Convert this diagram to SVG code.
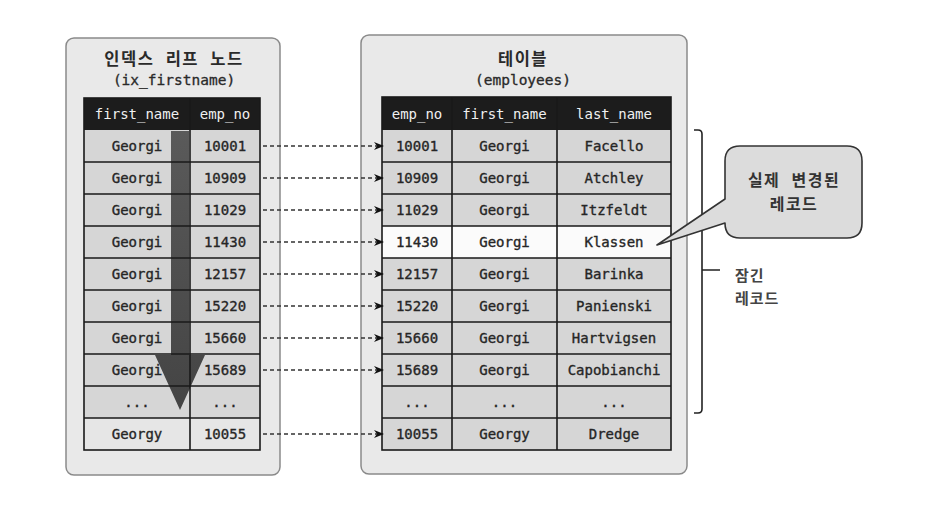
<svg xmlns="http://www.w3.org/2000/svg" width="948" height="506" viewBox="0 0 948 506">
<defs>
<style>
.panel{fill:#e9e9e9;stroke:#8a8a8a;stroke-width:1.5}
.title{font-family:"Noto Sans CJK KR","Noto Sans",sans-serif;font-weight:bold;font-size:16.5px;letter-spacing:1.5px;word-spacing:6px;fill:#2a2a2a;text-anchor:middle}
.sub{font-family:"DejaVu Sans Mono","Liberation Mono",monospace;font-size:14.5px;fill:#2a2a2a;stroke:#2a2a2a;stroke-width:0.3;text-anchor:middle}
.hdr{fill:#1c1c1c}
.htxt{font-family:"DejaVu Sans Mono","Liberation Mono",monospace;font-size:14px;fill:#f0f0f0;text-anchor:middle}
.cell{fill:#d6d6d6}
.lite{fill:#e6e6e6}
.white{fill:#fbfbfb}
.ctxt{font-family:"DejaVu Sans Mono","Liberation Mono",monospace;font-size:14px;fill:#262626;stroke:#262626;stroke-width:0.35;text-anchor:middle}
.grid{stroke:#1a1a1a;stroke-width:1.6;fill:none}
.conn{stroke:#333;stroke-width:1.3;stroke-dasharray:4 3;fill:none}
.kr{font-family:"Noto Sans CJK KR","Noto Sans",sans-serif;font-size:15px;font-weight:bold;letter-spacing:1px;fill:#444}
.krb{font-family:"Noto Sans CJK KR","Noto Sans",sans-serif;font-size:16px;font-weight:bold;letter-spacing:1.5px;word-spacing:6px;fill:#333;text-anchor:middle}
</style>
<marker id="ah" markerWidth="10" markerHeight="8" refX="9" refY="4" orient="auto" markerUnits="userSpaceOnUse">
<path d="M0,0 L10,4 L0,8 L3,4 Z" fill="#111"/>
</marker>
<linearGradient id="ag" x1="0" y1="0" x2="0" y2="1">
<stop offset="0" stop-color="#5a5a5a"/>
<stop offset="1" stop-color="#444"/>
</linearGradient>
</defs>
<rect width="948" height="506" fill="#fff"/>

<g id="index-leaf-node">
<rect class="panel" x="66" y="38" width="214" height="437" rx="8"/>
<text class="title" x="174" y="65">인덱스 리프 노드</text>
<text class="sub" x="174" y="85">(ix_firstname)</text>
<rect class="hdr" x="84" y="98" width="176" height="32"/>
<text class="htxt" x="137" y="119">first_name</text>
<text class="htxt" x="225" y="119">emp_no</text>
<rect class="cell" x="84" y="130" width="176" height="288"/>
<rect class="lite" x="84" y="418" width="176" height="32"/>
<g class="ctxt">
<text x="137" y="151">Georgi</text><text x="225" y="151">10001</text>
<text x="137" y="183">Georgi</text><text x="225" y="183">10909</text>
<text x="137" y="215">Georgi</text><text x="225" y="215">11029</text>
<text x="137" y="247">Georgi</text><text x="225" y="247">11430</text>
<text x="137" y="279">Georgi</text><text x="225" y="279">12157</text>
<text x="137" y="311">Georgi</text><text x="225" y="311">15220</text>
<text x="137" y="343">Georgi</text><text x="225" y="343">15660</text>
<text x="137" y="375">Georgi</text><text x="225" y="375">15689</text>
<text x="137" y="407">...</text><text x="225" y="407">...</text>
<text x="137" y="439">Georgy</text><text x="225" y="439">10055</text>
</g>
<polygon points="171,131 189,131 189,355 205,355 180,410 155,355 171,355" fill="url(#ag)"/>
<rect class="grid" x="84" y="98" width="176" height="352"/>
<path class="grid" d="M190,98V450 M84,162H260 M84,194H260 M84,226H260 M84,258H260 M84,290H260 M84,322H260 M84,354H260 M84,386H260 M84,418H260"/>
</g>

<g id="table-employees">
<rect class="panel" x="361" y="35" width="326" height="439" rx="8"/>
<text class="title" x="523" y="65">테이블</text>
<text class="sub" x="523" y="85">(employees)</text>
<rect class="hdr" x="382" y="97" width="289" height="33"/>
<text class="htxt" x="417" y="119">emp_no</text>
<text class="htxt" x="504.5" y="119">first_name</text>
<text class="htxt" x="614" y="119">last_name</text>
<rect class="cell" x="382" y="130" width="289" height="320"/>
<rect class="white" x="382" y="226" width="289" height="32"/>
<g class="ctxt">
<text x="417" y="151">10001</text><text x="504.5" y="151">Georgi</text><text x="614" y="151">Facello</text>
<text x="417" y="183">10909</text><text x="504.5" y="183">Georgi</text><text x="614" y="183">Atchley</text>
<text x="417" y="215">11029</text><text x="504.5" y="215">Georgi</text><text x="614" y="215">Itzfeldt</text>
<text x="417" y="247">11430</text><text x="504.5" y="247">Georgi</text><text x="614" y="247">Klassen</text>
<text x="417" y="279">12157</text><text x="504.5" y="279">Georgi</text><text x="614" y="279">Barinka</text>
<text x="417" y="311">15220</text><text x="504.5" y="311">Georgi</text><text x="614" y="311">Panienski</text>
<text x="417" y="343">15660</text><text x="504.5" y="343">Georgi</text><text x="614" y="343">Hartvigsen</text>
<text x="417" y="375">15689</text><text x="504.5" y="375">Georgi</text><text x="614" y="375">Capobianchi</text>
<text x="417" y="407">...</text><text x="504.5" y="407">...</text><text x="614" y="407">...</text>
<text x="417" y="439">10055</text><text x="504.5" y="439">Georgy</text><text x="614" y="439">Dredge</text>
</g>
<rect class="grid" x="382" y="97" width="289" height="353"/>
<path class="grid" d="M452,97V450 M557,97V450 M382,162H671 M382,194H671 M382,226H671 M382,258H671 M382,290H671 M382,322H671 M382,354H671 M382,386H671 M382,418H671"/>
</g>

<g id="connectors">
<line class="conn" x1="263" y1="146" x2="383" y2="146" marker-end="url(#ah)"/>
<line class="conn" x1="263" y1="178" x2="383" y2="178" marker-end="url(#ah)"/>
<line class="conn" x1="263" y1="210" x2="383" y2="210" marker-end="url(#ah)"/>
<line class="conn" x1="263" y1="242" x2="383" y2="242" marker-end="url(#ah)"/>
<line class="conn" x1="263" y1="274" x2="383" y2="274" marker-end="url(#ah)"/>
<line class="conn" x1="263" y1="306" x2="383" y2="306" marker-end="url(#ah)"/>
<line class="conn" x1="263" y1="338" x2="383" y2="338" marker-end="url(#ah)"/>
<line class="conn" x1="263" y1="370" x2="383" y2="370" marker-end="url(#ah)"/>
<line class="conn" x1="263" y1="434" x2="383" y2="434" marker-end="url(#ah)"/>
</g>

<g id="locked-records">
<path d="M694,130 H698 Q702,130 702,134 V409 Q702,413 698,413 H694 M702,270 H720" fill="none" stroke="#222" stroke-width="1.6"/>
<text class="kr" x="735" y="281">잠긴</text>
<text class="kr" x="735" y="304">레코드</text>
</g>

<g id="callout-changed-record">
<path d="M740,146 H847 Q862,146 862,161 V223 Q862,238 847,238 H740 Q725,238 725,223 L657,245 L725,199 V161 Q725,146 740,146 Z" fill="#dcdcdc" stroke="#333" stroke-width="1.6" stroke-linejoin="round"/>
<text class="krb" x="794" y="186">실제 변경된</text>
<text class="krb" x="794" y="210">레코드</text>
</g>
</svg>
